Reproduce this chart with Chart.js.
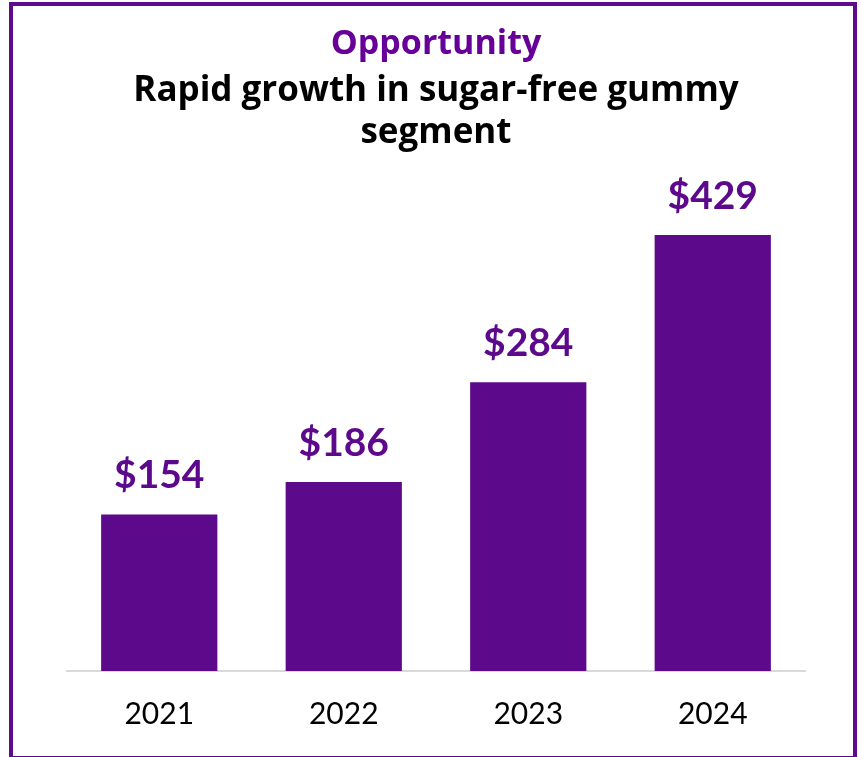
<!DOCTYPE html>
<html>
<head>
<meta charset="utf-8">
<title>Sugar-free gummy segment</title>
<script src="https://cdn.jsdelivr.net/npm/chart.js@4"></script>
<style>
    html, body { margin: 0; padding: 0; background: #ffffff; }
    #wrap { position: relative; width: 861px; height: 757px; overflow: hidden; }
    #wrap canvas { position: absolute; left: 0; top: 0; }
    /* purple card frame */
    #frame {
        position: absolute; left: 9px; top: 2px; width: 848px; height: 758px;
        border: 4px solid #5e0b8e; box-sizing: border-box; pointer-events: none;
    }
</style>
</head>
<body>
<div id="wrap">
    <canvas id="growth-chart" width="861" height="757"></canvas>
    <div id="frame"></div>
</div>
<script>
// Segment sales by year
const years = ['2021', '2022', '2023', '2024'];
const sales = [154, 186, 284, 429];

const PURPLE = '#5c0a8b';
const FONT = 'Lato, "Noto Sans", sans-serif';
const HEAD_FONT = '"Open Sans", Lato, sans-serif';

// Draws the "$" value above each bar
const valueLabels = {
    id: 'valueLabels',
    afterDatasetsDraw(chart) {
        const ctx = chart.ctx;
        const meta = chart.getDatasetMeta(0);
        ctx.save();
        ctx.font = 'bold 39px ' + FONT;
        ctx.fillStyle = PURPLE;
        ctx.textAlign = 'center';
        ctx.textBaseline = 'alphabetic';
        meta.data.forEach((bar, i) => {
            ctx.fillText('$' + sales[i], bar.x, bar.y - 26);
        });
        ctx.restore();
    }
};

document.addEventListener('DOMContentLoaded', () => {
    if (typeof Chart === 'undefined') {
        console.error('Chart.js not loaded');
        return;
    }
    createGrowthChart();
});

function createGrowthChart() {
    const ctx = document.getElementById('growth-chart');

    new Chart(ctx, {
        type: 'bar',
        data: {
            labels: years,
            datasets: [{
                data: sales,
                backgroundColor: PURPLE,
                borderWidth: 0,
                categoryPercentage: 0.63,
                barPercentage: 1.0
            }]
        },
        options: {
            responsive: false,
            animation: false,
            layout: {
                padding: { top: 12, left: 67, right: 56, bottom: 0 }
            },
            plugins: {
                legend: { display: false },
                tooltip: { enabled: false },
                title: {
                    display: true,
                    text: 'Opportunity',
                    color: '#660099',
                    font: { family: HEAD_FONT, size: 34, weight: 'bold', lineHeight: 1.2 },
                    padding: { top: 12, bottom: 0 }
                },
                subtitle: {
                    display: true,
                    text: ['Rapid growth in sugar-free gummy', 'segment'],
                    color: '#000000',
                    font: { family: HEAD_FONT, size: 35, weight: 'bold', lineHeight: 1.2 },
                    padding: { top: 5, bottom: 9 }
                }
            },
            scales: {
                x: {
                    grid: { display: false, drawTicks: false },
                    border: { display: true, color: '#d9d9d9', width: 2 },
                    ticks: {
                        color: '#000000',
                        padding: 25,
                        font: { family: FONT, size: 30, lineHeight: 1.2 }
                    }
                },
                y: {
                    display: false,
                    min: 0,
                    max: 500
                }
            }
        },
        plugins: [valueLabels]
    });
}
</script>
</body>
</html>
